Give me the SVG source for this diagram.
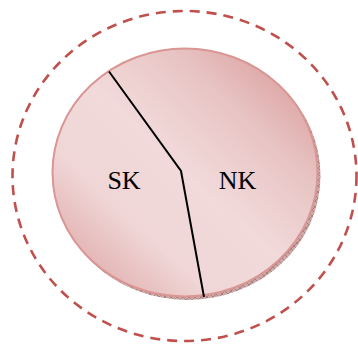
<svg xmlns="http://www.w3.org/2000/svg" width="358" height="344" viewBox="0 0 358 344">
<defs>
<linearGradient id="face" x1="0" y1="1" x2="1" y2="0">
<stop offset="0" stop-color="#d99a99"/>
<stop offset="0.3" stop-color="#f0d6d6"/>
<stop offset="0.5" stop-color="#f2dada"/>
<stop offset="0.72" stop-color="#e8c4c4"/>
<stop offset="1" stop-color="#d58f8e"/>
</linearGradient>
<pattern id="hatch" width="6" height="6" patternUnits="userSpaceOnUse">
<rect width="6" height="6" fill="#c9aaa9"/>
<path d="M0 0 L6 6 M6 0 L0 6" stroke="#9c6060" stroke-width="0.6"/>
</pattern>
<style>
.lbl{font-family:"Liberation Serif","Times New Roman",serif;font-size:26px;fill:#000;text-anchor:middle}
</style>
</defs>
<g id="boundary">
<ellipse cx="184.5" cy="176" rx="172" ry="165" fill="none" stroke="#c0504d" stroke-width="2.6" stroke-dasharray="10,7"/>
</g>
<g id="disk">
<ellipse cx="187.5" cy="175.5" rx="133" ry="124.5" fill="url(#hatch)"/>
<ellipse cx="185" cy="172.5" rx="132.5" ry="124" fill="url(#face)" stroke="#d99694" stroke-width="2"/>
</g>
<g id="connectors">
<polyline points="109,71.5 181,171 204,297" fill="none" stroke="#000" stroke-width="2"/>
</g>
<g id="SK"><text class="lbl" x="124" y="189">SK</text></g>
<g id="NK"><text class="lbl" x="237.5" y="189">NK</text></g>
</svg>
